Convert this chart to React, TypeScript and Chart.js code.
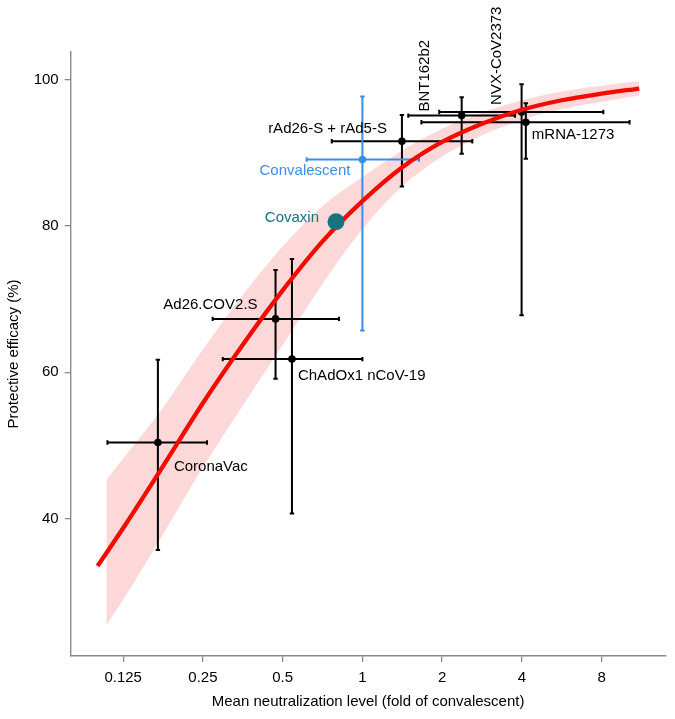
import React, { useEffect, useRef } from 'react'
import { Chart } from 'chart.js/auto'
import type { Plugin, Scale } from 'chart.js'

// vaccines (black markers)
const vaccines = ['CoronaVac', 'Ad26.COV2.S', 'ChAdOx1 nCoV-19', 'rAd26-S + rAd5-S', 'BNT162b2', 'NVX-CoV2373', 'mRNA-1273']
const neutral = [0.169, 0.47, 0.542, 1.41, 2.37, 3.99, 4.14]
const neutralLo = [0.109, 0.272, 0.297, 0.766, 1.49, 1.95, 1.67]
const neutralHi = [0.259, 0.816, 1.0, 2.6, 3.77, 8.12, 10.2]
const efficacy = [50.4, 67.3, 61.8, 91.6, 95.1, 95.6, 94.2]
const efficacyLo = [35.7, 59.1, 40.7, 85.4, 89.9, 67.8, 89.2]
const efficacyHi = [61.7, 74.0, 75.5, 95.2, 97.6, 99.4, 96.8]

// convalescent reference
const convLabel = 'Convalescent'
const convNeutral = [1.0]
const convNeutralLo = [0.616]
const convNeutralHi = [1.636]
const convEfficacy = [89.1]
const convEfficacyLo = [65.7]
const convEfficacyHi = [97.7]

// covaxin
const covaxinLabel = 'Covaxin'
const covaxinNeutral = [0.795]
const covaxinEfficacy = [80.6]

// fitted curve and its band
const curveX = [0.1, 0.125, 0.177, 0.25, 0.354, 0.5, 0.707, 1, 1.41, 2, 2.83, 4, 5.66, 8, 11.1]
const curveY = [33.5, 38.7, 47.2, 55.8, 63.8, 71.2, 77.9, 83.4, 88.0, 91.5, 94.0, 95.9, 97.2, 98.1, 98.8]
const bandX = [0.108, 0.125, 0.177, 0.25, 0.354, 0.5, 0.707, 1, 1.41, 2, 2.83, 4, 5.66, 8, 11.1]
const bandLo = [25.4, 28.9, 37.9, 47.0, 55.5, 63.7, 72.1, 79.6, 85.4, 89.5, 92.4, 94.5, 96.0, 97.0, 97.8]
const bandHi = [45.3, 48.2, 55.2, 63.1, 70.6, 77.2, 82.7, 86.7, 90.3, 93.3, 95.5, 97.2, 98.4, 99.2, 99.8]

const xTicks = [0.125, 0.25, 0.5, 1, 2, 4, 8]
const xTickLabels = ['0.125', '0.25', '0.5', '1', '2', '4', '8']
const yTicks = [40, 60, 80, 100]

const FONT = '"Liberation Sans", Arial, Helvetica, sans-serif'
const BLUE = '#3b8ee6'
const TEAL = '#17737e'
const AXIS = '#8a8a8a'

type Spot = { dx: number; dy: number; align: CanvasTextAlign; rotate?: boolean }
// label offsets from each marker, in px
const vaccineSpots: Spot[] = [
  { dx: 16, dy: 24, align: 'left' },
  { dx: -18, dy: -14, align: 'right' },
  { dx: 6, dy: 17, align: 'left' },
  { dx: -15, dy: -12, align: 'right' },
  { dx: -37, dy: -4, align: 'left', rotate: true },
  { dx: -25, dy: -7, align: 'left', rotate: true },
  { dx: 6, dy: 13, align: 'left' },
]
const convSpot: Spot = { dx: -12, dy: 11, align: 'right' }
const covaxinSpot: Spot = { dx: -17, dy: -4, align: 'right' }

const pts = (xs: number[], ys: number[]) => xs.map((v, i) => ({ x: v, y: ys[i] }))

export default function App() {
  const ref = useRef<HTMLCanvasElement | null>(null)

  useEffect(() => {
    if (!ref.current) return

    const overlay: Plugin<'line'> = {
      id: 'overlay',
      // error bars sit above the band, below points and curve
      afterDatasetDraw(chart, args) {
        if (args.index !== 1) return
        const { ctx } = chart
        const x = chart.scales.x
        const y = chart.scales.y
        const bar = (xv: number, yv: number, xl: number, xh: number, yl: number, yh: number, color: string) => {
          const px = x.getPixelForValue(xv)
          const py = y.getPixelForValue(yv)
          const x1 = x.getPixelForValue(xl)
          const x2 = x.getPixelForValue(xh)
          const y1 = y.getPixelForValue(yl)
          const y2 = y.getPixelForValue(yh)
          const c = 2.2
          ctx.strokeStyle = color
          ctx.lineWidth = 2
          ctx.beginPath()
          ctx.moveTo(x1, py); ctx.lineTo(x2, py)
          ctx.moveTo(px, y1); ctx.lineTo(px, y2)
          ctx.moveTo(x1, py - c); ctx.lineTo(x1, py + c)
          ctx.moveTo(x2, py - c); ctx.lineTo(x2, py + c)
          ctx.moveTo(px - c, y1); ctx.lineTo(px + c, y1)
          ctx.moveTo(px - c, y2); ctx.lineTo(px + c, y2)
          ctx.stroke()
        }
        ctx.save()
        neutral.forEach((v, i) =>
          bar(v, efficacy[i], neutralLo[i], neutralHi[i], efficacyLo[i], efficacyHi[i], '#000'))
        convNeutral.forEach((v, i) =>
          bar(v, convEfficacy[i], convNeutralLo[i], convNeutralHi[i], convEfficacyLo[i], convEfficacyHi[i], BLUE))
        ctx.restore()
      },
      afterDatasetsDraw(chart) {
        const { ctx } = chart
        const x = chart.scales.x
        const y = chart.scales.y
        const put = (text: string, xv: number, yv: number, s: Spot, color: string) => {
          const px = x.getPixelForValue(xv) + s.dx
          const py = y.getPixelForValue(yv) + s.dy
          ctx.save()
          ctx.fillStyle = color
          ctx.font = `15px ${FONT}`
          ctx.textAlign = s.align
          ctx.textBaseline = 'middle'
          ctx.translate(px, py)
          if (s.rotate) ctx.rotate(-Math.PI / 2)
          ctx.fillText(text, 0, 0)
          ctx.restore()
        }
        vaccines.forEach((name, i) => put(name, neutral[i], efficacy[i], vaccineSpots[i], '#000'))
        put(convLabel, convNeutral[0], convEfficacy[0], convSpot, BLUE)
        put(covaxinLabel, covaxinNeutral[0], covaxinEfficacy[0], covaxinSpot, TEAL)
      },
    }

    const chart = new Chart(ref.current, {
      type: 'line',
      data: {
        datasets: [
          {
            data: pts(bandX, bandLo),
            borderWidth: 0,
            pointRadius: 0,
            cubicInterpolationMode: 'monotone',
            fill: false,
            order: 6,
          },
          {
            data: pts(bandX, bandHi),
            borderWidth: 0,
            pointRadius: 0,
            cubicInterpolationMode: 'monotone',
            backgroundColor: '#fdd8d8',
            fill: 0,
            order: 5,
          },
          {
            data: pts(neutral, efficacy),
            showLine: false,
            pointRadius: 3.8,
            pointBackgroundColor: '#000',
            pointBorderWidth: 0,
            order: 3,
          },
          {
            data: pts(convNeutral, convEfficacy),
            showLine: false,
            pointRadius: 3.8,
            pointBackgroundColor: BLUE,
            pointBorderWidth: 0,
            order: 3,
          },
          {
            data: pts(curveX, curveY),
            borderColor: '#f20c00',
            borderWidth: 4.3,
            pointRadius: 0,
            cubicInterpolationMode: 'monotone',
            fill: false,
            order: 1,
          },
          {
            data: pts(covaxinNeutral, covaxinEfficacy),
            showLine: false,
            pointRadius: 8.5,
            pointBackgroundColor: TEAL,
            pointBorderWidth: 0,
            order: 0,
          },
        ],
      },
      options: {
        animation: false,
        responsive: true,
        maintainAspectRatio: false,
        layout: { padding: { left: 0, top: 52, right: 9.5, bottom: 0 } },
        plugins: {
          legend: { display: false },
          tooltip: { enabled: false },
        },
        scales: {
          x: {
            type: 'logarithmic',
            min: 0.0792,
            max: 13.94,
            afterBuildTicks: (s: Scale) => {
              s.ticks = xTicks.map((v) => ({ value: v }))
            },
            afterFit: (s: Scale) => {
              s.height = 63
            },
            ticks: {
              color: '#000',
              font: { family: FONT, size: 15 },
              padding: 7,
              maxRotation: 0,
              autoSkip: false,
              callback: (_v: unknown, i: number) => xTickLabels[i],
            },
            grid: { drawOnChartArea: false, color: AXIS, tickLength: 6, lineWidth: 1.3 },
            border: { color: AXIS, width: 1.4 },
            title: {
              display: true,
              text: 'Mean neutralization level (fold of convalescent)',
              color: '#000',
              font: { family: FONT, size: 15 },
              padding: { bottom: 8 },
            },
          },
          y: {
            type: 'linear',
            min: 21.2,
            max: 103.8,
            afterBuildTicks: (s: Scale) => {
              s.ticks = yTicks.map((v) => ({ value: v }))
            },
            afterFit: (s: Scale) => {
              s.width = 70.7
            },
            ticks: {
              color: '#000',
              font: { family: FONT, size: 15 },
              padding: 6,
            },
            grid: { drawOnChartArea: false, color: AXIS, tickLength: 6, lineWidth: 1.3 },
            border: { color: AXIS, width: 1.4 },
            title: {
              display: true,
              text: 'Protective efficacy (%)',
              color: '#000',
              font: { family: FONT, size: 15 },
              padding: { top: 5 },
            },
          },
        },
      },
      plugins: [overlay],
    })
    return () => chart.destroy()
  }, [])

  return (
    <div style={{ position: 'fixed', left: 0, top: 0, width: 675, height: 719, background: '#fff' }}>
      <canvas ref={ref} />
    </div>
  )
}
